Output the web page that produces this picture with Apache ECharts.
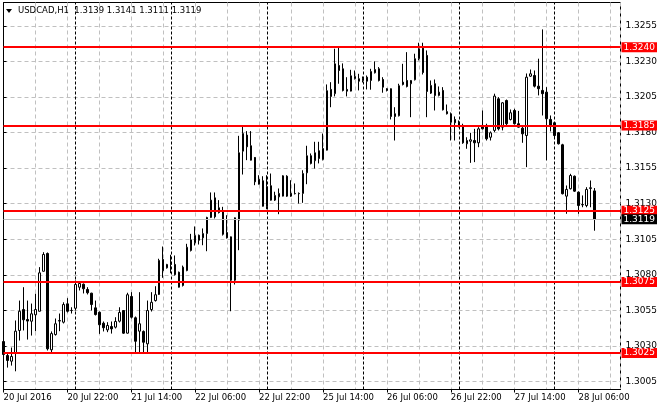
<!DOCTYPE html>
<html><head><meta charset="utf-8">
<script src="https://cdn.jsdelivr.net/npm/echarts@6/dist/echarts.min.js"></script>
<style>html,body{margin:0;padding:0;background:#fff}#c{width:660px;height:410px}</style>
</head><body><div id="c"></div>
<script>
const symbolName = 'USDCAD,H1';
const xTickLabels = ['20 Jul 2016','20 Jul 22:00','21 Jul 14:00','22 Jul 06:00','22 Jul 22:00','25 Jul 14:00','26 Jul 06:00','26 Jul 22:00','27 Jul 14:00','28 Jul 06:00'];
const barsPerLabel = 16;
const yTickValues = [1.3005,1.3030,1.3055,1.3080,1.3105,1.3130,1.3155,1.3180,1.3205,1.3230,1.3255];
const levels = [1.3240,1.3185,1.3125,1.3075,1.3025];
const bidPrice = 1.3119;
const daySeparators = [18,42,66,90,114,138];

const opens = [1.30331,1.30233,1.30193,1.30247,1.30409,1.30556,1.30486,1.30474,1.30519,1.30544,
1.30825,1.30950,1.30273,1.30380,1.30475,1.30467,1.30596,1.30549,1.30565,1.30713,
1.30734,1.30697,1.30671,1.30568,1.30537,1.30460,1.30413,1.30437,1.30432,1.30474,
1.30549,1.30390,1.30648,1.30498,1.30404,1.30402,1.30315,1.30556,1.30619,1.30662,
1.30908,1.30849,1.30873,1.30873,1.30818,1.30725,1.30830,1.30971,1.31025,1.31078,
1.31060,1.31090,1.31203,1.31341,1.31271,1.31247,1.31097,1.31067,1.30762,1.31184,
1.31669,1.31782,1.31707,1.31625,1.31470,1.31461,1.31278,1.31426,1.31325,1.31348,
1.31353,1.31493,1.31372,1.31372,1.31372,1.31372,1.31517,1.31637,1.31602,1.31672,
1.31611,1.31676,1.32103,1.32073,1.32271,1.32248,1.32103,1.32091,1.32178,1.32178,
1.32177,1.32189,1.32166,1.32220,1.32248,1.32173,1.32108,1.32108,1.31932,1.31918,
1.32154,1.32166,1.32143,1.32171,1.32319,1.32393,1.32342,1.32077,1.32143,1.32061,
1.32096,1.31947,1.31932,1.31892,1.31873,1.31850,1.31721,1.31739,1.31744,1.31728,
1.31850,1.31850,1.31767,1.31815,1.32037,1.31838,1.32025,1.31892,1.31955,1.31862,
1.31831,1.31779,1.32196,1.32201,1.32126,1.32096,1.32084,1.31892,1.31869,1.31798,
1.31714,1.31353,1.31405,1.31493,1.31381,1.31294,1.31287,1.31407,1.31390];
const highs = [1.30335,1.30254,1.30289,1.30479,1.30619,1.30713,1.30619,1.30598,1.30667,1.30854,
1.30959,1.30957,1.30402,1.30493,1.30528,1.30607,1.30636,1.30572,1.30760,1.30748,
1.30739,1.30713,1.30674,1.30619,1.30542,1.30472,1.30467,1.30472,1.30502,1.30572,
1.30552,1.30674,1.30678,1.30507,1.30678,1.30409,1.30619,1.30678,1.30720,1.30913,
1.30999,1.30877,1.30941,1.30936,1.30823,1.30865,1.31018,1.31088,1.31140,1.31083,
1.31126,1.31208,1.31379,1.31379,1.31325,1.31278,1.31219,1.31069,1.31203,1.31777,
1.31841,1.31810,1.31810,1.31628,1.31500,1.31493,1.31500,1.31512,1.31384,1.31407,
1.31500,1.31500,1.31465,1.31442,1.31379,1.31535,1.31707,1.31653,1.31735,1.31735,
1.31793,1.32138,1.32154,1.32389,1.32400,1.32286,1.32189,1.32241,1.32236,1.32213,
1.32194,1.32201,1.32248,1.32300,1.32260,1.32189,1.32112,1.32110,1.31978,1.32143,
1.32283,1.32365,1.32169,1.32354,1.32431,1.32431,1.32377,1.32166,1.32173,1.32124,
1.32119,1.31997,1.31941,1.31913,1.31885,1.31862,1.31767,1.31798,1.31826,1.31838,
1.31955,1.31862,1.31808,1.32073,1.32049,1.32014,1.32032,1.31962,1.31967,1.31952,
1.31850,1.32215,1.32243,1.32236,1.32319,1.32525,1.32119,1.31920,1.31873,1.31803,
1.31721,1.31428,1.31510,1.31498,1.31386,1.31358,1.31416,1.31463,1.31410];
const lows = [1.30151,1.30148,1.30162,1.30122,1.30338,1.30409,1.30345,1.30373,1.30404,1.30542,
1.30823,1.30268,1.30245,1.30373,1.30404,1.30458,1.30535,1.30528,1.30549,1.30690,
1.30669,1.30662,1.30549,1.30514,1.30385,1.30402,1.30397,1.30387,1.30423,1.30465,
1.30385,1.30387,1.30493,1.30245,1.30245,1.30245,1.30245,1.30542,1.30612,1.30658,
1.30779,1.30844,1.30811,1.30795,1.30711,1.30718,1.30825,1.30964,1.31006,1.31013,
1.31008,1.30966,1.31199,1.31196,1.31231,1.31076,1.31055,1.30544,1.30732,1.30973,
1.31505,1.31606,1.31604,1.31430,1.31435,1.31280,1.31261,1.31322,1.31319,1.31226,
1.31351,1.31348,1.31348,1.31365,1.31301,1.31306,1.31437,1.31576,1.31547,1.31583,
1.31604,1.31674,1.31978,1.32054,1.32143,1.32089,1.32054,1.32089,1.32173,1.32096,
1.32152,1.32103,1.32101,1.32215,1.32159,1.32080,1.32089,1.31892,1.31744,1.31913,
1.32131,1.32117,1.31908,1.32166,1.32307,1.32208,1.31908,1.32071,1.31955,1.32054,
1.31955,1.31927,1.31744,1.31744,1.31836,1.31721,1.31686,1.31587,1.31592,1.31697,
1.31822,1.31744,1.31744,1.31803,1.31815,1.31815,1.31850,1.31885,1.31857,1.31836,
1.31728,1.31557,1.32191,1.32117,1.32061,1.31920,1.31604,1.31808,1.31765,1.31716,
1.31365,1.31229,1.31400,1.31383,1.31229,1.31275,1.31275,1.31275,1.31110];
const closes = [1.30240,1.30198,1.30226,1.30404,1.30544,1.30484,1.30475,1.30526,1.30556,1.30814,
1.30943,1.30280,1.30387,1.30456,1.30479,1.30591,1.30544,1.30550,1.30732,1.30739,
1.30702,1.30674,1.30591,1.30521,1.30449,1.30428,1.30444,1.30420,1.30472,1.30535,
1.30390,1.30660,1.30502,1.30333,1.30456,1.30326,1.30549,1.30607,1.30660,1.30901,
1.30830,1.30873,1.30874,1.30802,1.30713,1.30854,1.30994,1.31046,1.31076,1.31043,
1.31090,1.31203,1.31325,1.31208,1.31238,1.31085,1.31060,1.30762,1.31201,1.31658,
1.31793,1.31700,1.31606,1.31454,1.31437,1.31282,1.31419,1.31325,1.31358,1.31372,
1.31496,1.31353,1.31353,1.31370,1.31370,1.31512,1.31637,1.31583,1.31658,1.31618,
1.31688,1.32094,1.32054,1.32283,1.32236,1.32096,1.32091,1.32199,1.32194,1.32161,
1.32166,1.32161,1.32229,1.32243,1.32166,1.32119,1.32096,1.31913,1.31913,1.32129,
1.32138,1.32124,1.32166,1.32319,1.32389,1.32222,1.32089,1.32131,1.32061,1.32084,
1.31960,1.31932,1.31873,1.31869,1.31852,1.31728,1.31744,1.31749,1.31728,1.31826,
1.31826,1.31756,1.31798,1.32056,1.31826,1.32009,1.31862,1.31939,1.31862,1.31838,
1.31791,1.32189,1.32213,1.32126,1.32108,1.32073,1.31897,1.31850,1.31779,1.31721,
1.31370,1.31400,1.31498,1.31388,1.31287,1.31292,1.31400,1.31412,1.31190];

const fnt = 'DejaVu Sans';
const candles = opens.map((o, i) => [i, o, closes[i], lows[i], highs[i]]);
const last = opens.length - 1;
const labelIdx = xTickLabels.map((_, k) => k * barsPerLabel);
const titleText = symbolName + '  ' + [opens[last], highs[last], lows[last], closes[last]].map(v => v.toFixed(4)).join(' ');

const levelLines = levels.map(v => ({
  yAxis: v,
  lineStyle: {color: '#ff0000', width: 2, type: 'solid'},
  label: {backgroundColor: '#ff0000'}
}));
levelLines.push({
  yAxis: bidPrice,
  lineStyle: {color: '#c0c0c0', width: 1, type: 'solid'},
  label: {backgroundColor: '#000000'}
});

const chart = echarts.init(document.getElementById('c'), null, {renderer: 'canvas'});
chart.setOption({
  animation: false,
  backgroundColor: '#ffffff',
  title: {
    text: titleText, left: 18, top: 6, padding: 0,
    textStyle: {fontFamily: fnt, fontSize: 8.5, fontWeight: 'normal', color: '#000'}
  },
  graphic: [{type: 'polygon', shape: {points: [[6, 9], [12, 9], [9, 13]]}, style: {fill: '#000'}}],
  grid: {left: 3.5, right: 38.5, top: 2.5, bottom: 20.5, show: true, borderColor: '#000', borderWidth: 1},
  xAxis: [{
    type: 'value', min: 0, max: 154.5,
    axisLine: {show: true, onZero: false, lineStyle: {color: '#000'}},
    axisTick: {show: true, customValues: labelIdx, length: 3, lineStyle: {color: '#000'}},
    axisLabel: {customValues: labelIdx, formatter: v => xTickLabels[Math.round(v / barsPerLabel)],
      align: 'left', margin: 4, color: '#000', fontFamily: fnt, fontSize: 8.5},
    splitLine: {show: false}
  }, {
    type: 'value', min: 0, max: 154.5, interval: 8, position: 'bottom',
    axisLine: {show: false}, axisTick: {show: false}, axisLabel: {show: false},
    splitLine: {show: true, lineStyle: {color: '#c0c0c0', type: [4, 3], width: 1}}
  }],
  yAxis: {
    type: 'value', position: 'right', min: 1.29994, max: 1.32714,
    axisLine: {show: true, lineStyle: {color: '#000'}},
    axisTick: {show: true, customValues: yTickValues, length: 3, lineStyle: {color: '#000'}},
    axisLabel: {customValues: yTickValues, formatter: v => v.toFixed(4), margin: 5,
      color: '#000', fontFamily: fnt, fontSize: 9},
    splitLine: {show: true, lineStyle: {color: '#c0c0c0', type: [4, 3], width: 1}}
  },
  series: [{
    type: 'line', data: [], z: 1, silent: true,
    markLine: {
      z: 1, silent: true, symbol: ['none', 'none'], animation: false,
      label: {show: false},
      lineStyle: {color: '#000', type: [3, 2], width: 1},
      data: daySeparators.map(v => ({xAxis: v}))
    }
  }, {
    type: 'candlestick', data: candles,
    encode: {x: 0, y: [1, 2, 3, 4]},
    barWidth: 2,
    itemStyle: {color: '#ffffff', color0: '#000000', borderColor: '#000000', borderColor0: '#000000', borderWidth: 1},
    markLine: {
      silent: true, symbol: ['none', 'none'], animation: false, precision: 5,
      label: {show: true, position: 'end', distance: 1, formatter: p => p.value.toFixed(4),
        color: '#fff', fontFamily: fnt, fontSize: 9, lineHeight: 9, padding: [1, 2, 0, 2]},
      data: levelLines
    }
  }]
});
</script></body></html>
